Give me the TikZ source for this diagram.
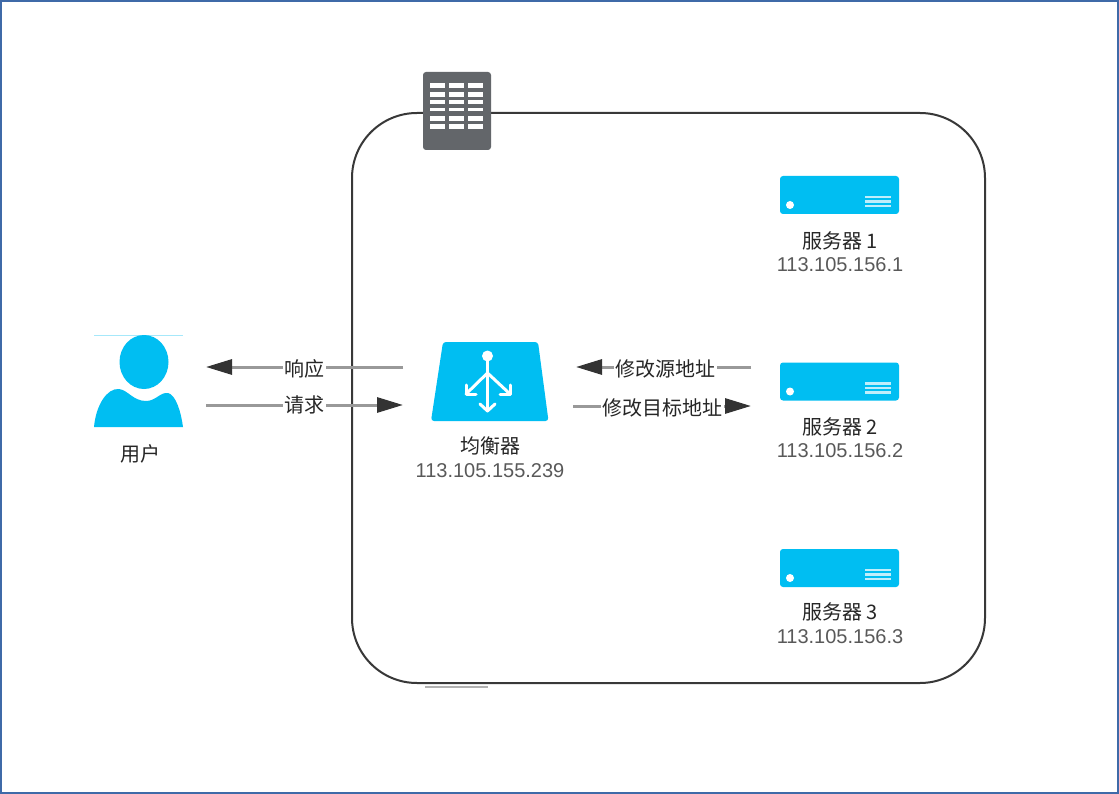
\documentclass[tikz,border=0pt]{standalone}
\usepackage{fontspec}
\setmainfont{Liberation Sans}
\newfontfamily\cjk{Noto Sans CJK SC}
\usetikzlibrary{arrows.meta}
\definecolor{cy}{HTML}{00BEF2}
\definecolor{iconc}{HTML}{63666A}
\definecolor{connc}{HTML}{999999}
\definecolor{tipc}{HTML}{333333}
\definecolor{framec}{HTML}{3F6AA8}
\tikzset{
  x=1pt,y=-1pt,
  connline/.style={draw=connc,line width=3pt,-{Triangle[length=26pt,width=15pt,color=tipc]}},
  lbl/.style={font=\cjk\fontsize{20}{22}\selectfont,text=black!85,inner sep=1.5pt,fill=white},
  captxt/.style={font=\cjk\fontsize{20}{22}\selectfont,text=black!85,inner sep=0pt},
  iptxt/.style={font=\fontsize{20}{22}\selectfont,text=black!65,inner sep=0pt},
  srv/.style={fill=cy,rounded corners=3pt},
  srvbar/.style={draw=white,line width=2.4pt,opacity=.75},
  wht/.style={draw=white,line width=3pt,line cap=round,line join=round},
}
\newcommand{\serverat}[2]{%
  \fill[srv] (780,#1) rectangle (899,#1+38);
  \fill[white] (790,#1+29) circle (4);
  \foreach \d in {21,25.5,30}{\draw[srvbar] (865,#1+\d) -- (891,#1+\d);}
  \coordinate (#2) at (839.5,#1+19);
}
\begin{document}
\begin{tikzpicture}
\useasboundingbox (0,0) rectangle (1119,794);
\fill[white] (0,0) rectangle (1119,794);
\draw[framec,line width=2pt] (1,1) rectangle (1118,793);
% container
\draw[black!78,line width=2pt,rounded corners=65pt] (352,113) rectangle (985,683);
\draw[black!30,line width=2pt] (425,687) -- (488,687);
% building icon
\fill[iconc,rounded corners=3pt] (423,72) rectangle (491,150);
\foreach \y/\h in {83/5,92/5,100.5/4,108/3.5,116/5,124.5/4.5}
  \foreach \x in {430,449,468}
    \fill[white] (\x,\y) rectangle (\x+14.5,\y+\h);
% user
\draw[cy!35,line width=1pt] (94,335.5) -- (183,335.5);
\fill[cy] (144,362) ellipse (24.5 and 27);
\fill[cy] (94,427) .. controls (96,405) and (107,388) .. (119,389) .. controls (128,390) and (133,401) .. (146,401) .. controls (156,401) and (160,392) .. (168,393) .. controls (176,395) and (181,412) .. (183,427) -- cycle;
\node[captxt] (user) at (140,454) {用户};
% balancer
\fill[cy,rounded corners=3pt] (443,342) -- (538,342) -- (548.5,421) -- (431,421) -- cycle;
\fill[white] (487.5,356) circle (5.5);
\draw[wht] (487.5,358) -- (487.5,411);
\draw[wht] (487.5,373) -- (466,394);
\draw[wht] (487.5,373) -- (510,394);
\draw[wht] (480,404) -- (487.5,411) -- (495,404);
\draw[wht] (466,385) -- (466,394) -- (476,394);
\draw[wht] (510,385) -- (510,394) -- (500,394);
\node[captxt] (lbcap) at (490,446) {均衡器};
\node[iptxt] (lbip) at (490,471) {113.105.155.239};
% servers
\serverat{176}{s1}
\serverat{362.5}{s2}
\serverat{549}{s3}
\node[captxt] (s1cap) at (840,241) {服务器 1};
\node[iptxt] (s1ip) at (840,265) {113.105.156.1};
\node[captxt] (s2cap) at (840,427) {服务器 2};
\node[iptxt] (s2ip) at (840,451) {113.105.156.2};
\node[captxt] (s3cap) at (840,612) {服务器 3};
\node[iptxt] (s3ip) at (840,637) {113.105.156.3};
% connector ends
\coordinate (ul) at (206,367);
\coordinate (lr) at (403,367);
\coordinate (uq) at (206,405);
\coordinate (lq) at (403,405);
\coordinate (ls) at (576,367);
\coordinate (ss) at (751,367);
\coordinate (lt) at (573,406);
\coordinate (st) at (751,406);
% connectors
\draw[connline] (lr) -- (ul) node[lbl,pos=.5,yshift=-1.5pt] (resp) {响应};
\draw[connline] (uq) -- (lq) node[lbl,pos=.5] (reqs) {请求};
\draw[connline] (ss) -- (ls) node[lbl,pos=.49,yshift=-1.5pt] (srca) {修改源地址};
\draw[connline] (lt) -- (st) node[lbl,pos=.505,yshift=-1.5pt] (dsta) {修改目标地址};
\end{tikzpicture}
\end{document}
